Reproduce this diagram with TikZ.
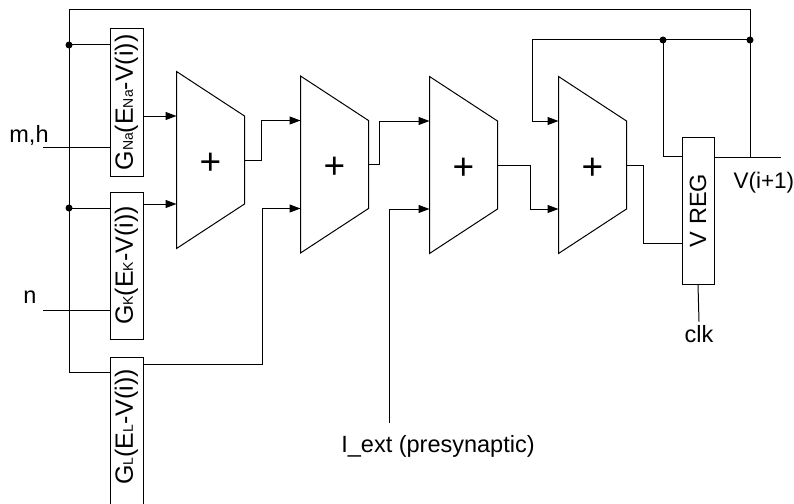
\documentclass[tikz,border=0pt]{standalone}
\usepackage{fontspec}
\setmainfont{Liberation Sans}
\usetikzlibrary{arrows.meta,calc}

\newcommand{\gsub}[1]{{\fontsize{14}{14}\selectfont #1}}

\tikzset{
  gbox/.style={draw,minimum width=33pt,minimum height=147pt,inner sep=0pt,font=\fontsize{25}{25}\selectfont},
  lbl/.style={font=\fontsize{23.5}{26}\selectfont},
  addr/.style={minimum width=67pt,minimum height=176pt,inner sep=0pt,font=\fontsize{37}{37}\selectfont},
  arr/.style={-{Triangle[length=11pt,width=8pt]}},
}

\begin{document}
\begin{tikzpicture}[x=1pt,y=-1pt,line width=1pt]
  \useasboundingbox (0,0) rectangle (794,503);

  % conductance terms
  \node[gbox] (gna) at (126.5,102.5) {\rotatebox{90}{G\gsub{Na}(E\gsub{Na}-V(i))}};
  \node[gbox] (gk) at (126.5,265.5) {\rotatebox{90}{G\gsub{K}(E\gsub{K}-V(i))}};
  \node[gbox,minimum height=153pt] (gl) at (126.5,433.5) {\rotatebox{90}{\hspace*{13pt}G\gsub{L}(E\gsub{L}-V(i))}};

  % adders
  \foreach \i/\x/\y in {1/210.5/160, 2/334.5/164.5, 3/463.5/165, 4/592.5/165}{
    \node[addr] (s\i) at (\x,\y) {\raisebox{-14pt}[0pt][0pt]{+}};
    \draw (s\i.north west) -- ($(s\i.east)+(0,-44)$) -- ($(s\i.east)+(0,44)$) -- (s\i.south west) -- cycle;
    \coordinate (s\i-a) at ($(s\i.west)+(0,-44)$);
    \coordinate (s\i-b) at ($(s\i.west)+(0,44)$);
  }

  % register
  \node[gbox,minimum width=32pt,font=\fontsize{23.5}{26}\selectfont] (vreg) at (698,210.5) {\rotatebox{90}{V REG}};

  % labels
  \node[lbl] (mh) at (29,135) {m,h};
  \node[lbl] (n) at (30,297) {n};
  \node[lbl] (iext) at (438,446) {I\_ext (presynaptic)};
  \node[lbl,font=\fontsize{22.5}{26}\selectfont,anchor=west,inner sep=0pt] (vnext) at (733,183) {V(i+1)};
  \node[lbl] (clk) at (699,334) {clk};

  \coordinate (bus) at (69,9.5);
  \coordinate (d1) at (69,45);
  \coordinate (d2) at (69,208);
  \coordinate (dr) at (750,40);
  \coordinate (dm) at (663,40);
  \coordinate (mhin) at (43,147);
  \coordinate (nin) at (43,310);
  \coordinate (ie) at (389,423);
  \coordinate (vq) at ($(vreg.north east)+(0,21)$);

  % wires
  \draw (vq) -- ++(66,0);
  \draw (dr |- vq) -- (dr) |- (bus) |- ($(gl.north west)+(0,16)$);
  \draw (d1) -- (d1 -| gna.west);
  \draw (d2) -- (d2 -| gk.west);
  \draw (mhin) -- (mhin -| gna.west);
  \draw (nin) -- (nin -| gk.west);
  \draw[arr] (s1-a -| gna.east) -- (s1-a);
  \draw[arr] (s1-b -| gk.east) -- (s1-b);
  \draw[arr] (s1.east) -- ++(17,0) |- (s2-a);
  \draw[arr] ($(gl.north east)+(0,8)$) -- ++(119,0) |- (s2-b);
  \draw[arr] (s2.east) -- ++(11,0) |- (s3-a);
  \draw[arr] (ie) |- (s3-b);
  \draw[arr] (s3.east) -- ++(33,0) |- (s4-b);
  \draw[arr] (dr) -- ++(-218,0) |- (s4-a);
  \draw (dm) |- ($(vreg.north west)+(0,20)$);
  \draw (s4.east) -- ++(17,0) |- ($(vreg.south west)+(0,-41)$);
  \draw (vreg.south) -- (clk.north);
  \fill (d1) circle (3.5pt) (d2) circle (3.5pt) (dr) circle (3.5pt) (dm) circle (3.5pt);
\end{tikzpicture}
\end{document}
